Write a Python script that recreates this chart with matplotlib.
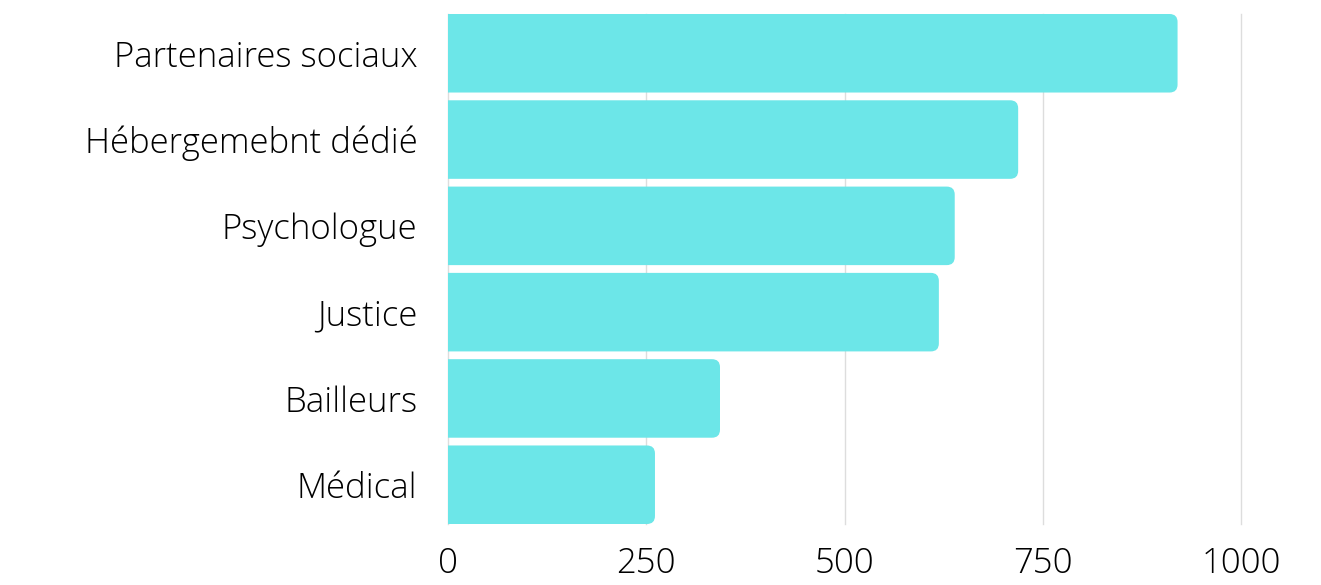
import matplotlib
matplotlib.use("Agg")
import matplotlib.pyplot as plt
from matplotlib.patches import FancyBboxPatch

categories = ["Partenaires sociaux", "Hébergemebnt dédié", "Psychologue",
              "Justice", "Bailleurs", "Médical"]
values = [920, 719, 639, 619, 343, 261]
ticks = [0, 250, 500, 750, 1000]

plt.rcParams['font.family'] = ['Open Sans', 'DejaVu Sans']

fig = plt.figure(figsize=(13.21, 5.85), dpi=100)
ax = fig.add_axes([448 / 1321, 1 - 524 / 585, 793 / 1321, 510 / 585])

bar_h = 0.91
color = "#6ce6e8"
ax.set_xlim(0, 1000)
ax.set_ylim(len(categories) - 1 + bar_h / 2, -bar_h / 2)

# pixels per data unit, so the rounded corners stay round
px_x = 793 / 1000
px_y = 510 / (len(categories) - 1 + bar_h)
r = 8 / px_x  # corner radius in x-units

for i, v in enumerate(values):
    # start left of 0 so the axes clip gives a square left edge
    p = FancyBboxPatch((-2 * r, i - bar_h / 2), v + 2 * r, bar_h,
                       boxstyle=f"round,pad=0,rounding_size={r}",
                       mutation_aspect=px_x / px_y,
                       facecolor=color, edgecolor="none", zorder=2)
    ax.add_patch(p)

ax.set_yticks(range(len(categories)))
ax.set_yticklabels(categories, fontsize=25, fontweight='light')
ax.set_xticks(ticks)
ax.set_xticklabels([str(t) for t in ticks], fontsize=25, fontweight='light')
ax.tick_params(length=0, pad=16)
ax.tick_params(axis='y', pad=22)

ax.grid(axis='x', color="#dddddd", linewidth=1, zorder=0)
for gl in ax.get_xgridlines():
    gl.set_clip_on(False)
ax.set_axisbelow(True)
for s in ax.spines.values():
    s.set_visible(False)

fig.savefig("out.png", dpi=100, facecolor="white")
